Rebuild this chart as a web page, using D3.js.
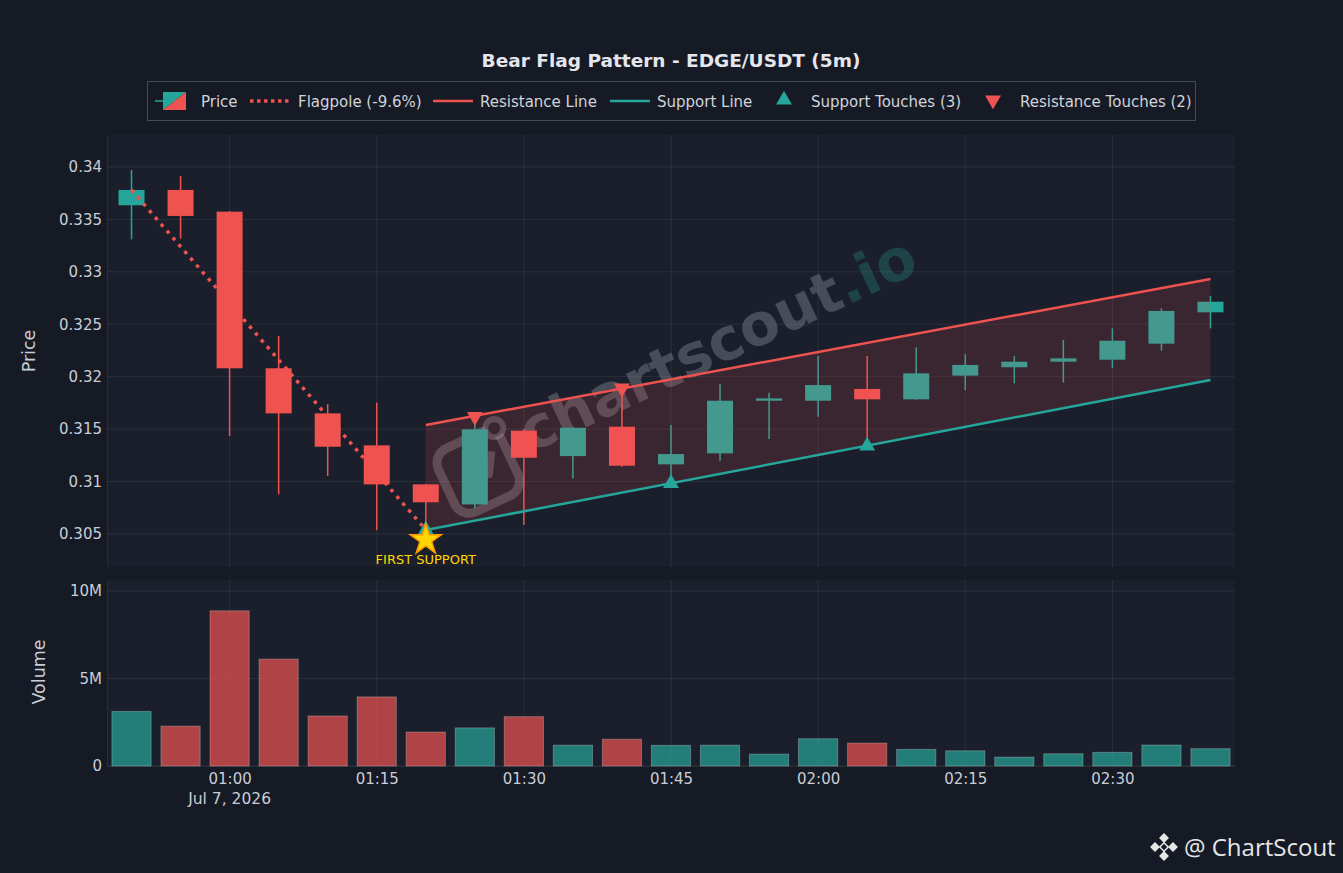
<!DOCTYPE html>
<html>
<head>
<meta charset="utf-8">
<script src="https://cdn.jsdelivr.net/npm/d3@7"></script>
<style>
  body { margin: 0; background: #161a25; }
  svg { display: block; font-family: "DejaVu Sans", sans-serif; }
</style>
</head>
<body>
<svg id="chart" width="1343" height="873"></svg>
<script>
// candle times (5m), Jul 7 2026
var times = ["00:50","00:55","01:00","01:05","01:10","01:15","01:20","01:25","01:30","01:35","01:40","01:45",
             "01:50","01:55","02:00","02:05","02:10","02:15","02:20","02:25","02:30","02:35","02:40"];
var opens  = [0.33635,0.33781,0.33574,0.32080,0.31650,0.31345,0.30973,0.30782,0.31485,0.31243,0.31523,0.31164,
              0.31269,0.31771,0.31771,0.31883,0.31784,0.32010,0.32090,0.32143,0.32162,0.32315,0.32614];
var highs  = [0.33971,0.33914,0.33580,0.32388,0.31739,0.31752,0.30980,0.31610,0.31500,0.31520,0.31900,0.31539,
              0.31930,0.31847,0.32197,0.32197,0.32280,0.32214,0.32197,0.32350,0.32461,0.32652,0.32770];
var lows   = [0.33310,0.33316,0.31434,0.30878,0.31053,0.30537,0.30540,0.30744,0.30585,0.31030,0.31140,0.30983,
              0.31198,0.31405,0.31618,0.31333,0.31780,0.31873,0.31937,0.31943,0.32080,0.32248,0.32461];
var closes = [0.33781,0.33533,0.32080,0.31650,0.31332,0.30973,0.30802,0.31498,0.31227,0.31513,0.31151,0.31262,
              0.31771,0.31793,0.31920,0.31784,0.32032,0.32112,0.32143,0.32175,0.32343,0.32627,0.32715];
var volumes = [3.12e6,2.28e6,8.87e6,6.11e6,2.86e6,3.95e6,1.94e6,2.18e6,2.82e6,1.19e6,1.53e6,1.18e6,
               1.19e6,0.68e6,1.56e6,1.31e6,0.95e6,0.87e6,0.51e6,0.70e6,0.78e6,1.20e6,0.99e6];

var flagpoleTimes = ["00:50","01:20"];
var flagpoleValues = [0.33781, 0.30540];
var resistanceTimes = ["01:20","02:40"];
var resistanceValues = [0.31539, 0.32932];
var supportTimes = ["01:20","02:40"];
var supportValues = [0.30537, 0.31968];
var supportTouchTimes = ["01:20","01:45","02:05"];
var supportTouchValues = [0.30540, 0.30983, 0.31340];
var resistanceTouchTimes = ["01:25","01:40"];
var resistanceTouchValues = [0.31620, 0.31890];
var firstSupport = { time: "01:20", value: 0.30445, label: "FIRST SUPPORT" };

var priceTicks = [0.305,0.31,0.315,0.32,0.325,0.33,0.335,0.34];
var volumeTicks = [0, 5e6, 10e6];
var volumeTickLabels = ["0","5M","10M"];

var legendItems = [
  { key: "price", label: "Price", x: 155 },
  { key: "flagpole", label: "Flagpole (-9.6%)", x: 250 },
  { key: "resistance", label: "Resistance Line", x: 433 },
  { key: "support", label: "Support Line", x: 610 },
  { key: "stouch", label: "Support Touches (3)", x: 772 },
  { key: "rtouch", label: "Resistance Touches (2)", x: 981 }
];

var GREEN = "#26a69a", RED = "#ef5350", GRID = "rgba(255,255,255,0.07)", TXT = "#c9cdd6";

var parseT = d3.utcParse("%Y-%m-%d %H:%M:%S");
var t = function (s) { return parseT("2026-07-07 " + (s.length == 5 ? s + ":00" : s)); };

var svg = d3.select("#chart");

var P = { left: 107, right: 1235, top: 135, bottom: 567 };
var V = { top: 580, bottom: 766 };

var x = d3.scaleUtc().domain([t("00:47:30"), t("02:42:30")]).range([P.left, P.right]);
var yP = d3.scaleLinear().domain([0.30185, 0.34305]).range([P.bottom, P.top]);
var yV = d3.scaleLinear().domain([0, 10.63e6]).range([V.bottom, V.top]);

var step = x(t("00:55")) - x(t("00:50"));

var candles = times.map(function (s, i) {
  return { t: t(s), o: opens[i], h: highs[i], l: lows[i], c: closes[i], v: volumes[i] };
});

// -- panels --
svg.append("rect").attr("x", P.left).attr("y", P.top).attr("width", P.right - P.left).attr("height", P.bottom - P.top).attr("fill", "#1b1f2c");
svg.append("rect").attr("x", P.left).attr("y", V.top).attr("width", P.right - P.left).attr("height", V.bottom - V.top).attr("fill", "#1b1f2c");

var xTicks = x.ticks(d3.utcMinute.every(15));

// grids
var grid = svg.append("g").attr("stroke", GRID).attr("stroke-width", 1);
grid.selectAll(".gy").data(priceTicks).enter().append("line")
  .attr("x1", P.left).attr("x2", P.right)
  .attr("y1", function (d) { return yP(d); }).attr("y2", function (d) { return yP(d); });
grid.selectAll(".gv").data(volumeTicks).enter().append("line")
  .attr("x1", P.left).attr("x2", P.right)
  .attr("y1", function (d) { return yV(d); }).attr("y2", function (d) { return yV(d); });
grid.selectAll(".gx").data(xTicks).enter().append("line")
  .attr("x1", function (d) { return x(d); }).attr("x2", function (d) { return x(d); })
  .attr("y1", P.top).attr("y2", P.bottom);
grid.selectAll(".gx2").data(xTicks).enter().append("line")
  .attr("x1", function (d) { return x(d); }).attr("x2", function (d) { return x(d); })
  .attr("y1", V.top).attr("y2", V.bottom);

// -- watermark --
var WMC = "rgba(200,205,215,0.26)";
var wm = svg.append("g").attr("transform", "translate(726,362) rotate(-25)");
wm.append("rect").attr("x", -306).attr("y", -40).attr("width", 70).attr("height", 70).attr("rx", 16)
  .attr("fill", "none").attr("stroke", WMC).attr("stroke-width", 9);
wm.append("path").attr("d", "M-292,10 L-274,-10 L-262,2 L-250,-18")
  .attr("fill", "none").attr("stroke", WMC).attr("stroke-width", 7).attr("stroke-linejoin", "round");
wm.append("circle").attr("cx", -238).attr("cy", -38).attr("r", 9).attr("fill", "#1b1f2c")
  .attr("stroke", WMC).attr("stroke-width", 6);
var wmText = wm.append("text").attr("x", 0).attr("y", 0).attr("text-anchor", "middle")
  .attr("font-size", 58).attr("font-weight", "bold");
wmText.append("tspan").attr("fill", WMC).text("chartscout");
wmText.append("tspan").attr("fill", "rgba(38,166,154,0.28)").text(".io");

// -- candles --
var bodyW = step * 0.53;
var cg = svg.append("g");
cg.selectAll(".wick").data(candles).enter().append("line")
  .attr("x1", function (d) { return x(d.t); }).attr("x2", function (d) { return x(d.t); })
  .attr("y1", function (d) { return yP(d.h); }).attr("y2", function (d) { return yP(d.l); })
  .attr("stroke", function (d) { return d.c >= d.o ? GREEN : RED; }).attr("stroke-width", 1.5);
cg.selectAll(".body").data(candles).enter().append("rect")
  .attr("x", function (d) { return x(d.t) - bodyW / 2; })
  .attr("width", bodyW)
  .attr("y", function (d) { return yP(Math.max(d.o, d.c)); })
  .attr("height", function (d) { return Math.max(1, Math.abs(yP(d.o) - yP(d.c))); })
  .attr("fill", function (d) { return d.c >= d.o ? GREEN : RED; });

// -- flag channel fill (drawn over candles) --
var rPts = resistanceTimes.map(function (s, i) { return [x(t(s)), yP(resistanceValues[i])]; });
var sPts = supportTimes.map(function (s, i) { return [x(t(s)), yP(supportValues[i])]; });
svg.append("path")
  .attr("d", d3.line()(rPts.concat(sPts.slice().reverse())) + "Z")
  .attr("fill", "rgba(239,83,80,0.15)");

// flagpole
svg.append("path")
  .attr("d", d3.line()(flagpoleTimes.map(function (s, i) { return [x(t(s)), yP(flagpoleValues[i])]; })))
  .attr("fill", "none").attr("stroke", RED).attr("stroke-width", 3.5).attr("stroke-dasharray", "3.5,5.5");

svg.append("path").attr("d", d3.line()(rPts)).attr("fill", "none").attr("stroke", RED).attr("stroke-width", 2.5);
svg.append("path").attr("d", d3.line()(sPts)).attr("fill", "none").attr("stroke", GREEN).attr("stroke-width", 2.5);

// touches
var tri = d3.symbol().type(d3.symbolTriangle).size(110);
svg.selectAll(".st").data(supportTouchTimes).enter().append("path")
  .attr("d", tri)
  .attr("transform", function (d, i) { return "translate(" + x(t(d)) + "," + yP(supportTouchValues[i]) + ")"; })
  .attr("fill", GREEN);
svg.selectAll(".rt").data(resistanceTouchTimes).enter().append("path")
  .attr("d", tri)
  .attr("transform", function (d, i) { return "translate(" + x(t(d)) + "," + yP(resistanceTouchValues[i]) + ") rotate(180)"; })
  .attr("fill", RED);

// first support star
svg.append("path")
  .attr("d", d3.symbol().type(d3.symbolStar).size(300))
  .attr("transform", "translate(" + x(t(firstSupport.time)) + "," + yP(firstSupport.value) + ")")
  .attr("fill", "#ffd700").attr("stroke", "#ff9800").attr("stroke-width", 1.5);
svg.append("text")
  .attr("x", x(t(firstSupport.time))).attr("y", yP(firstSupport.value) + 24)
  .attr("text-anchor", "middle").attr("font-size", 13).attr("fill", "#ffd700")
  .text(firstSupport.label);

// -- volume --
var volW = step * 0.8;
svg.append("g").selectAll("rect").data(candles).enter().append("rect")
  .attr("x", function (d) { return x(d.t) - volW / 2; })
  .attr("width", volW)
  .attr("y", function (d) { return yV(d.v); })
  .attr("height", function (d) { return yV(0) - yV(d.v); })
  .attr("fill", function (d) { return d.c >= d.o ? GREEN : RED; })
  .attr("fill-opacity", 0.7)
  .attr("stroke", "rgba(255,255,255,0.25)").attr("stroke-width", 1);

// -- axes --
var yAxisP = d3.axisLeft(yP).tickValues(priceTicks).tickSize(0).tickPadding(5)
  .tickFormat(function (d) { return String(+d.toFixed(3)); });
var gyP = svg.append("g").attr("transform", "translate(" + P.left + ",0)").call(yAxisP);
var yAxisV = d3.axisLeft(yV).tickValues(volumeTicks).tickSize(0).tickPadding(5)
  .tickFormat(function (d, i) { return volumeTickLabels[i]; });
var gyV = svg.append("g").attr("transform", "translate(" + P.left + ",0)").call(yAxisV);
var xAxis = d3.axisBottom(x).tickValues(xTicks).tickSize(0).tickPadding(7).tickFormat(d3.utcFormat("%H:%M"));
var gx = svg.append("g").attr("transform", "translate(0," + V.bottom + ")").call(xAxis);

[gyP, gyV, gx].forEach(function (g) {
  g.attr("font-family", "DejaVu Sans, sans-serif").attr("font-size", 15);
  g.select(".domain").attr("stroke", "rgba(255,255,255,0.06)");
  g.selectAll("text").attr("fill", TXT);
});
gx.append("text").attr("x", x(xTicks[0])).attr("y", 38).attr("text-anchor", "middle")
  .attr("fill", TXT).attr("font-size", 15.5).text("Jul 7, 2026");

svg.append("text").attr("transform", "translate(35,351) rotate(-90)").attr("text-anchor", "middle")
  .attr("fill", TXT).attr("font-size", 17.5).text("Price");
svg.append("text").attr("transform", "translate(45,672) rotate(-90)").attr("text-anchor", "middle")
  .attr("fill", TXT).attr("font-size", 17.5).text("Volume");

// -- title --
svg.append("text").attr("x", 671).attr("y", 67).attr("text-anchor", "middle")
  .attr("font-size", 18.5).attr("font-weight", "bold").attr("fill", "#e4e6eb")
  .text("Bear Flag Pattern - EDGE/USDT (5m)");

// -- legend --
var lg = svg.append("g");
lg.append("rect").attr("x", 147.5).attr("y", 81.5).attr("width", 1048).attr("height", 39)
  .attr("fill", "none").attr("stroke", "#444a58").attr("stroke-width", 1);
var ly = 101;
legendItems.forEach(function (it) {
  var g = lg.append("g").attr("transform", "translate(" + it.x + "," + ly + ")");
  var tx = 46;
  if (it.key == "price") {
    g.append("line").attr("x1", 0).attr("x2", 14).attr("y1", 0).attr("y2", 0).attr("stroke", GREEN).attr("stroke-width", 1.5);
    g.append("line").attr("x1", 17).attr("x2", 31).attr("y1", 0).attr("y2", 0).attr("stroke", RED).attr("stroke-width", 1.5);
    g.append("path").attr("d", "M8,-9 L31,-9 L8,9 Z").attr("fill", GREEN);
    g.append("path").attr("d", "M31,-9 L31,9 L8,9 Z").attr("fill", RED);
  } else if (it.key == "flagpole") {
    g.append("line").attr("x1", 0).attr("x2", 40).attr("y1", 0).attr("y2", 0)
      .attr("stroke", RED).attr("stroke-width", 3.5).attr("stroke-dasharray", "3.5,3.5");
    tx = 48;
  } else if (it.key == "resistance" || it.key == "support") {
    g.append("line").attr("x1", 0).attr("x2", 40).attr("y1", 0).attr("y2", 0)
      .attr("stroke", it.key == "resistance" ? RED : GREEN).attr("stroke-width", 2.5);
    tx = 47;
  } else {
    g.append("path").attr("d", tri)
      .attr("transform", "translate(12,-1)" + (it.key == "rtouch" ? " rotate(180)" : ""))
      .attr("fill", it.key == "rtouch" ? RED : GREEN);
    tx = 39;
  }
  g.append("text").attr("x", tx).attr("y", 5.5).attr("font-size", 15).attr("fill", "#d0d3da").text(it.label);
});

// -- logo --
var logo = svg.append("g").attr("transform", "translate(1164,847)");
[[0,-9],[-9,0],[9,0],[0,9]].forEach(function (p) {
  logo.append("rect").attr("x", p[0] - 3.5).attr("y", p[1] - 3.5).attr("width", 7).attr("height", 7)
    .attr("transform", "rotate(45," + p[0] + "," + p[1] + ")").attr("fill", "#e6e6e6");
});
logo.append("rect").attr("x", -3).attr("y", -3).attr("width", 6).attr("height", 6)
  .attr("transform", "rotate(45)").attr("fill", "none").attr("stroke", "#e6e6e6").attr("stroke-width", 1.5);
svg.append("text").attr("x", 1184).attr("y", 856).attr("font-size", 24)
  .attr("font-family", "Open Sans, sans-serif").attr("fill", "#e6e6e6").text("@ ChartScout");
</script>
</body>
</html>
